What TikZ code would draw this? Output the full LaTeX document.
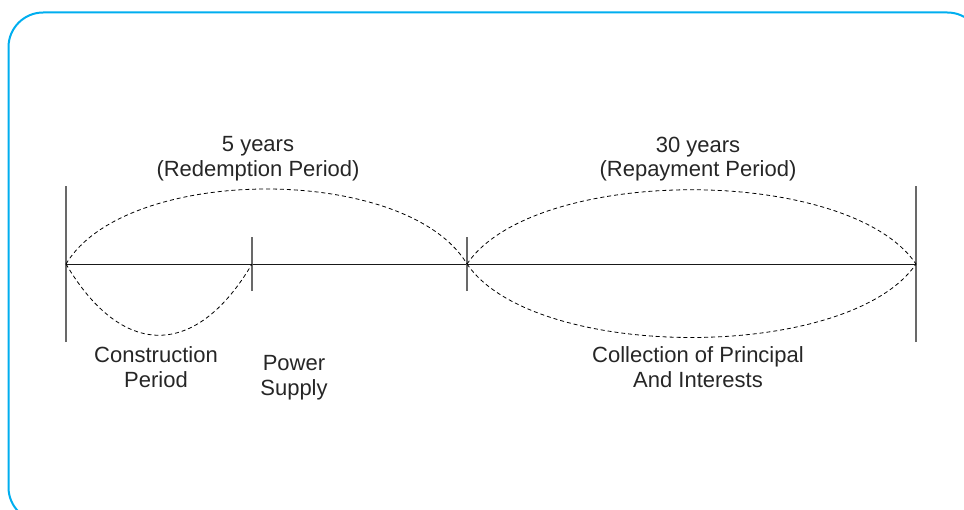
\documentclass[tikz,border=0pt]{standalone}
\usepackage{fontspec}
\setmainfont{Liberation Sans}
\definecolor{framecyan}{RGB}{0,174,239}
\definecolor{tickgray}{RGB}{105,105,105}
\tikzset{
	arcline/.style={dash pattern=on 3pt off 2.2pt, line width=0.6pt},
	txt/.style={align=center, font=\fontsize{16.5}{18.5}\selectfont, text=black!85},
}
\begin{document}
\begin{tikzpicture}[x=0.75pt, y=-0.75pt]
	\useasboundingbox (0,0) rectangle (964,510);
	\clip (0,0) rectangle (964,510);
	\draw [framecyan, line width=1.5pt, rounded corners=26pt] (8.5,12.5) rectangle (982,522);
	
	\coordinate (t0) at (66,264);
	\coordinate (t1) at (252,264);
	\coordinate (t2) at (467,264);
	\coordinate (t3) at (916,264);
	
	% time line and ticks
	\draw [line width=0.65pt, black!90] (t0) -- (t3);
	\foreach \p/\l in {t0/78, t1/27, t2/27, t3/78}
	{
		\draw [tickgray, line width=1.1pt] ([yshift=-\l*0.75pt]\p) -- ([yshift=\l*0.75pt]\p);
	}
	
	% periods
	\draw [arcline] (t0) .. controls +(60,-100) and +(-60,-100) .. (t2);
	\draw [arcline] (t0) .. controls +(56,95) and +(-56,95) .. (t1);
	\draw [arcline] (t2) .. controls +(67,-99) and +(-67,-99) .. (t3);
	\draw [arcline] (t2) .. controls +(67,98) and +(-67,98) .. (t3);
	
	\node [txt] (redemption) at (258,159) {5 years\\(Redemption Period)};
	\node [txt] (repayment) at (698,159) {30 years\\(Repayment Period)};
	\node [txt] (construction) at (156,367) {Construction\\Period};
	\node [txt] (power) at (294,378) {Power\\Supply};
	\node [txt] (collection) at (698,367) {Collection of Principal\\And Interests};
	
\end{tikzpicture}
\end{document}
